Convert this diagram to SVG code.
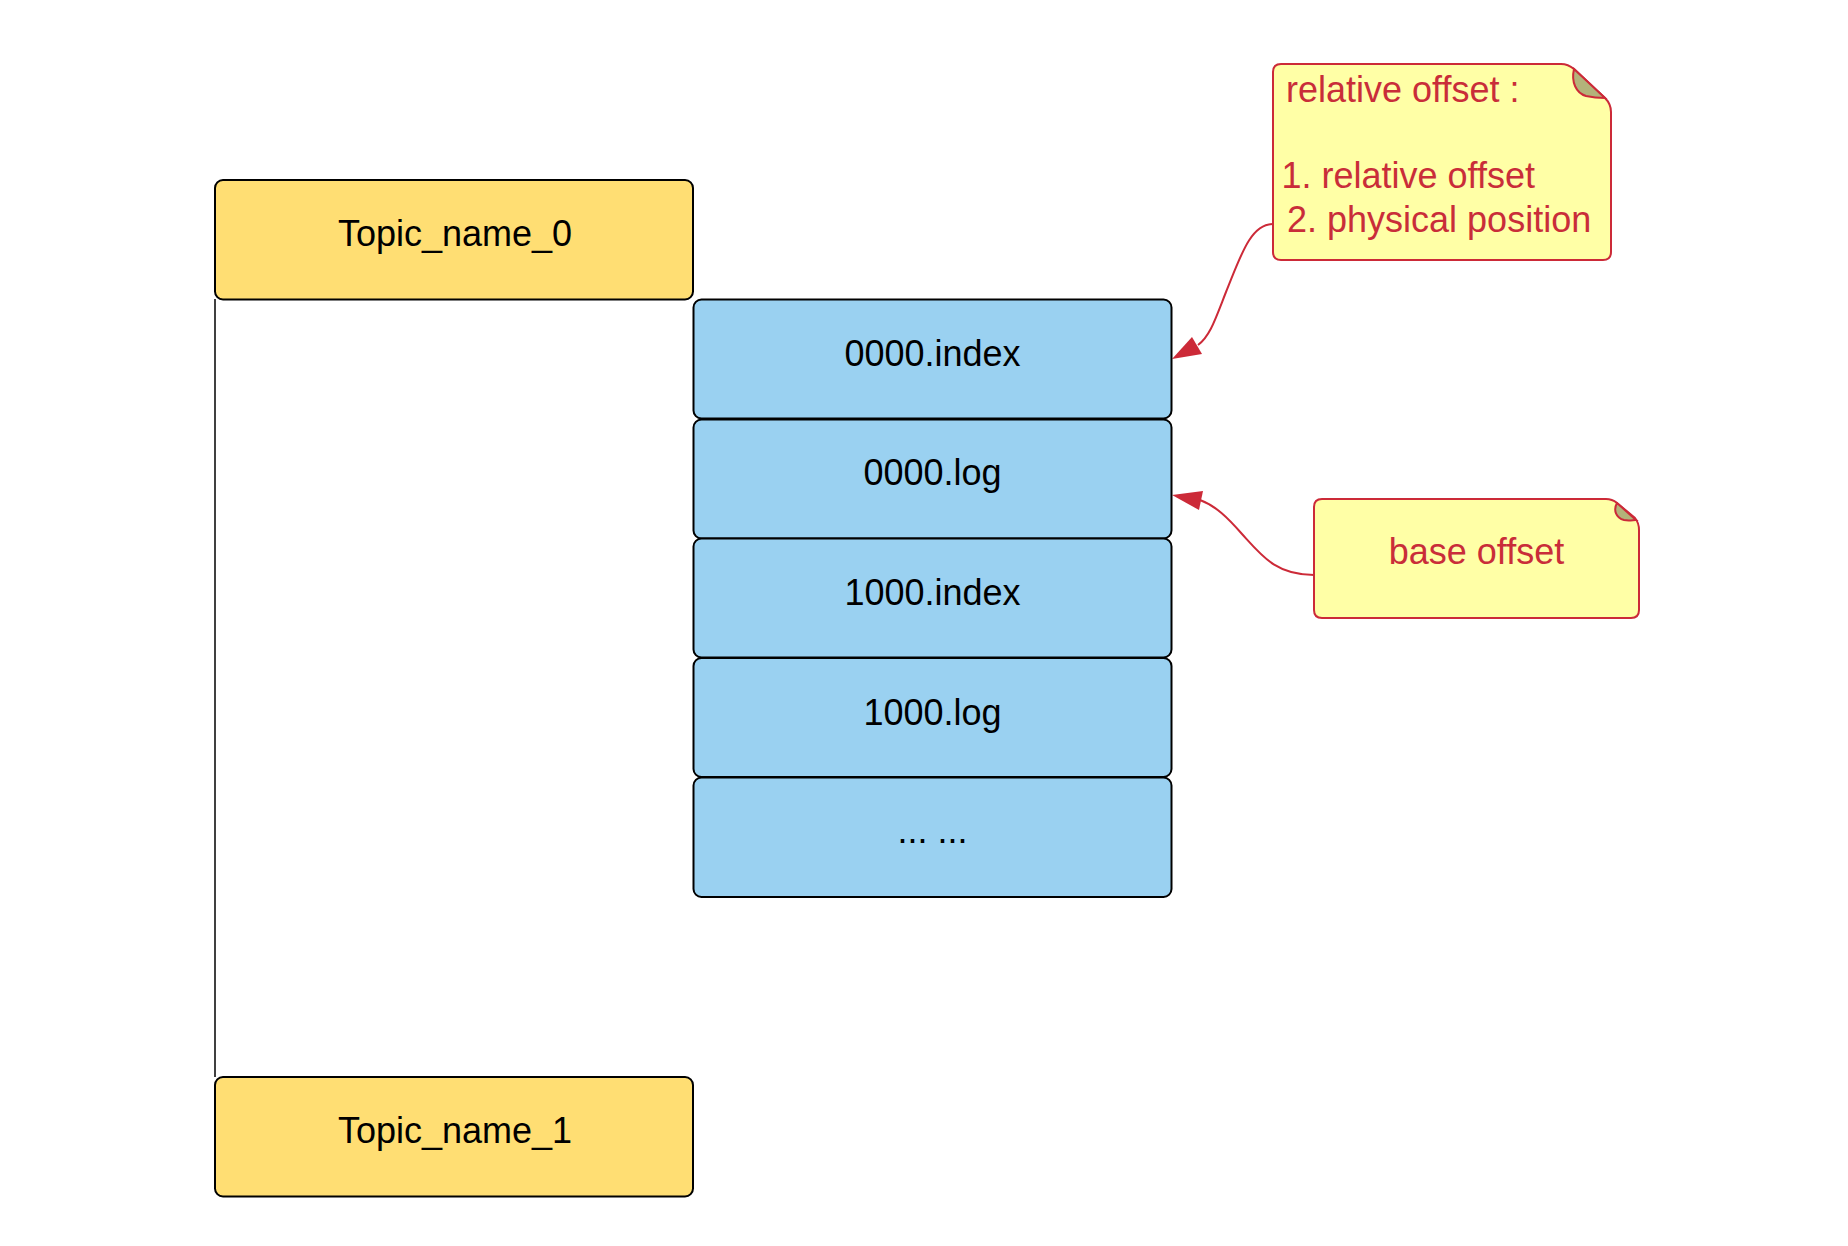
<svg xmlns="http://www.w3.org/2000/svg" width="1848" height="1246" viewBox="0 0 1848 1246">
<style>
  .topic { fill: #FFDE73; stroke: #000000; stroke-width: 2; }
  .file { fill: #9AD1F1; stroke: #000000; stroke-width: 2; }
  .lbl { font-family: "Liberation Sans", Arial, sans-serif; font-size: 36px; fill: #000000; text-anchor: middle; }
  .note { fill: #FFFFA6; stroke: #CC2A38; stroke-width: 2; }
  .fold { fill: #B3B37A; stroke: #CC2A38; stroke-width: 2; }
  .ntxt { font-family: "Liberation Sans", Arial, sans-serif; font-size: 36px; fill: #C92D39; }
  .conn { fill: none; stroke: #CC2A38; stroke-width: 2; }
  .head { fill: #CC2A38; stroke: none; }
  .tree { fill: none; stroke: #000000; stroke-width: 1.5; }
</style>
<rect width="1848" height="1246" fill="#FFFFFF"/>

<g id="connectors">
  <line class="tree" x1="215" y1="299" x2="215" y2="1077"/>
  <path class="conn" d="M1273,224 C1250,224 1240,258 1226,292 C1215,320 1210,336 1198,345"/>
  <polygon class="head" points="1172,359 1192,337 1202,354"/>
  <path class="conn" d="M1314,575 C1276,575 1262,556 1242,534 C1228,518 1216,506 1200,500"/>
  <polygon class="head" points="1172,495 1203,491 1199,510"/>
</g>

<g id="topic0">
  <rect class="topic" x="215" y="180" width="478" height="119.5" rx="8" ry="8"/>
  <text class="lbl" x="455" y="246">Topic_name_0</text>
</g>

<g id="file-0000-index">
  <rect class="file" x="693.5" y="299.5" width="478" height="119" rx="8" ry="8"/>
  <text class="lbl" x="932.5" y="366">0000.index</text>
</g>
<g id="file-0000-log">
  <rect class="file" x="693.5" y="419.5" width="478" height="119" rx="8" ry="8"/>
  <text class="lbl" x="932.5" y="485">0000.log</text>
</g>
<g id="file-1000-index">
  <rect class="file" x="693.5" y="538.5" width="478" height="119" rx="8" ry="8"/>
  <text class="lbl" x="932.5" y="605">1000.index</text>
</g>
<g id="file-1000-log">
  <rect class="file" x="693.5" y="658" width="478" height="119" rx="8" ry="8"/>
  <text class="lbl" x="932.5" y="725">1000.log</text>
</g>
<g id="file-more">
  <rect class="file" x="693.5" y="777.5" width="478" height="119.5" rx="8" ry="8"/>
  <text class="lbl" x="932.5" y="843">... ...</text>
</g>

<g id="topic1">
  <rect class="topic" x="215" y="1077" width="478" height="119.5" rx="8" ry="8"/>
  <text class="lbl" x="455" y="1143">Topic_name_1</text>
</g>

<g id="note-relative">
  <path class="note" d="M1281,64 H1561 Q1568,64 1574,69 L1605,98 Q1611,104 1611,112 V252 Q1611,260 1603,260 H1281 Q1273,260 1273,252 V72 Q1273,64 1281,64 Z"/>
  <path class="fold" d="M1574,69 C1571,82 1576,93 1586,96 C1595,98 1600,98 1605,98 Z"/>
  <text class="ntxt" x="1286" y="102">relative offset :</text>
  <text class="ntxt" x="1281.5" y="188">1. relative offset</text>
  <text class="ntxt" x="1287" y="232">2. physical position</text>
</g>

<g id="note-base">
  <path class="note" d="M1322,499 H1606 Q1612,499 1617,503 L1635,518 Q1639,523 1639,530 V610 Q1639,618 1631,618 H1322 Q1314,618 1314,610 V507 Q1314,499 1322,499 Z"/>
  <path class="fold" d="M1617,503 C1613,510 1616,518 1624,520 C1629,521 1633,520 1636,520 Z"/>
  <text class="ntxt" x="1476.5" y="564" text-anchor="middle">base offset</text>
</g>
</svg>
